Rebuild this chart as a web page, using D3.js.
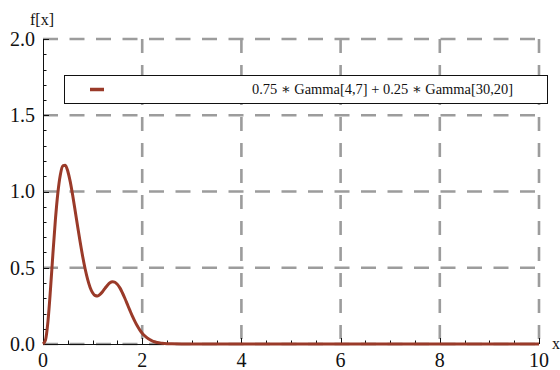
<!DOCTYPE html>
<html>
<head>
<meta charset="utf-8">
<script src="https://cdn.jsdelivr.net/npm/d3@7"></script>
<style>
  html, body { margin: 0; padding: 0; background: #fff; }
  svg { display: block; }
  text { font-family: "Liberation Serif", "DejaVu Serif", serif; fill: #111; }
</style>
</head>
<body>
<svg id="chart" width="560" height="370"></svg>
<script>
// Mixture density 0.75*Gamma(4,7) + 0.25*Gamma(30,20), sampled along x
const xValues = [0, 0.05, 0.1, 0.15, 0.2, 0.25, 0.3, 0.35, 0.4, 0.45, 0.5, 0.55, 0.6, 0.65, 0.7, 0.75,
  0.8, 0.85, 0.9, 0.95, 1.0, 1.05, 1.1, 1.15, 1.2, 1.25, 1.3, 1.35, 1.4, 1.45, 1.5, 1.55, 1.6, 1.65,
  1.7, 1.75, 1.8, 1.85, 1.9, 1.95, 2.0, 2.05, 2.1, 2.15, 2.2, 2.25, 2.3, 2.4, 2.5, 2.6, 2.8, 3.0, 4, 6, 8, 10];
const densityValues = [0, 0.026, 0.149, 0.355, 0.592, 0.815, 0.992, 1.110, 1.168, 1.172, 1.133, 1.063, 0.972, 0.871, 0.767, 0.667,
  0.574, 0.492, 0.424, 0.371, 0.336, 0.318, 0.315, 0.325, 0.343, 0.365, 0.386, 0.402, 0.409, 0.405, 0.391, 0.368, 0.336, 0.300,
  0.261, 0.222, 0.184, 0.150, 0.119, 0.093, 0.071, 0.054, 0.040, 0.029, 0.021, 0.015, 0.010, 0.005, 0.002, 0.001, 0.0001, 0, 0, 0, 0, 0];

const xTicks = [0, 2, 4, 6, 8, 10];
const yTicks = [0, 0.5, 1.0, 1.5, 2.0];
const yTickLabels = ["0.0", "0.5", "1.0", "1.5", "2.0"];
const seriesLabel = "0.75 \u2217 Gamma[4,7] + 0.25 \u2217 Gamma[30,20]";
const yAxisTitle = "f[x]";
const xAxisTitle = "x";

const curveColor = "#9a3a29";
const gridColor = "#9c9c9c";

const svg = d3.select("#chart");
const plotLeft = 43, plotRight = 539, plotTop = 39, plotBottom = 344;

const x = d3.scaleLinear().domain([0, 10]).range([plotLeft, plotRight]);
const y = d3.scaleLinear().domain([0, 2]).range([plotBottom, plotTop]);

// dashed grid
const grid = svg.append("g");
grid.selectAll("line.h").data(yTicks).join("line")
  .attr("x1", plotLeft).attr("x2", plotRight)
  .attr("y1", d => y(d)).attr("y2", d => y(d))
  .attr("stroke", gridColor).attr("stroke-width", 2.6)
  .attr("stroke-dasharray", "15,11.5");
grid.selectAll("line.v").data(xTicks.filter(d => d > 0)).join("line")
  .attr("x1", d => x(d)).attr("x2", d => x(d))
  .attr("y1", plotTop).attr("y2", plotBottom)
  .attr("stroke", gridColor).attr("stroke-width", 2.6)
  .attr("stroke-dasharray", "14,12");

// axes with major and minor ticks pointing inward
const axisG = svg.append("g").attr("stroke", "#111").attr("stroke-width", 1);
axisG.append("line").attr("x1", plotLeft + 0.5).attr("x2", plotLeft + 0.5).attr("y1", plotTop).attr("y2", plotBottom + 0.5);
axisG.append("line").attr("x1", plotLeft).attr("x2", plotRight).attr("y1", plotBottom + 0.5).attr("y2", plotBottom + 0.5);

const yMinor = d3.range(0, 2.001, 0.1);
axisG.selectAll("line.ym").data(yMinor).join("line")
  .attr("x1", plotLeft).attr("x2", (d, i) => plotLeft + (i % 5 === 0 ? 6 : 3.5))
  .attr("y1", d => Math.round(y(d)) + 0.5).attr("y2", d => Math.round(y(d)) + 0.5);
const xMinor = d3.range(0, 10.001, 0.5);
axisG.selectAll("line.xm").data(xMinor).join("line")
  .attr("x1", d => Math.round(x(d)) + 0.5).attr("x2", d => Math.round(x(d)) + 0.5)
  .attr("y1", plotBottom).attr("y2", (d, i) => plotBottom - (i % 4 === 0 ? 6 : 3.5));

// tick labels
svg.append("g").selectAll("text").data(yTicks).join("text")
  .attr("x", 35).attr("y", d => y(d)).attr("dy", "0.34em")
  .attr("text-anchor", "end").attr("font-size", 20)
  .text((d, i) => yTickLabels[i]);
svg.append("g").selectAll("text").data(xTicks).join("text")
  .attr("x", d => x(d)).attr("y", 367)
  .attr("text-anchor", "middle").attr("font-size", 20)
  .text(d => d);

// axis titles
svg.append("text").attr("x", 30).attr("y", 25).attr("font-size", 16).text(yAxisTitle);
svg.append("text").attr("x", 552).attr("y", 349).attr("font-size", 16).text(xAxisTitle);

// density curve
const line = d3.line().x(d => x(d[0])).y(d => y(d[1])).curve(d3.curveMonotoneX);
svg.append("path")
  .datum(d3.zip(xValues, densityValues))
  .attr("d", line)
  .attr("fill", "none").attr("stroke", curveColor).attr("stroke-width", 3)
  .attr("stroke-linejoin", "round");

// legend
const lg = svg.append("g");
lg.append("rect").attr("x", 64.5).attr("y", 75.5).attr("width", 483).attr("height", 28)
  .attr("fill", "#fff").attr("stroke", "#111").attr("stroke-width", 1);
lg.append("line").attr("x1", 90).attr("x2", 104).attr("y1", 89.5).attr("y2", 89.5)
  .attr("stroke", curveColor).attr("stroke-width", 3.5);
lg.append("text").attr("x", 252).attr("y", 94).attr("font-size", 15)
  .attr("textLength", 261).attr("lengthAdjust", "spacingAndGlyphs")
  .text(seriesLabel);
</script>
</body>
</html>
